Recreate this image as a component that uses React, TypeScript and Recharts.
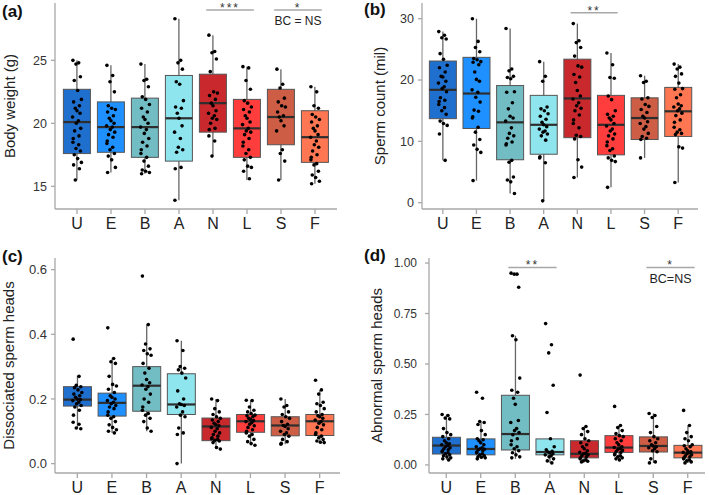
import { ComposedChart, Bar, Scatter, XAxis, YAxis, ReferenceLine } from "recharts";

const GROUPS = ["U", "E", "B", "A", "N", "L", "S", "F"];
const COLORS = ["#1f6fcf", "#1e90ff", "#72bcc4", "#8fe5ee", "#c9282d", "#ff3d3d", "#cd5d45", "#ff7752"];

// box stats per group: [lower whisker, q1, median, q3, upper whisker]
const weightBox = [
  [15.5, 17.6, 20.1, 22.7, 25.0],
  [16.1, 17.7, 19.7, 21.7, 24.6],
  [16.0, 17.3, 19.7, 22.0, 24.7],
  [13.9, 17.0, 20.4, 23.8, 28.3],
  [17.4, 19.3, 21.6, 23.9, 27.0],
  [15.5, 17.3, 19.6, 21.9, 24.5],
  [15.5, 18.3, 20.5, 22.7, 24.3],
  [15.2, 16.9, 18.9, 21.0, 22.9],
];
const weightPts = [
  [25.0, 24.8, 24.7, 23.7, 23.4, 22.6, 21.9, 21.7, 21.4, 21.2, 21.0, 20.8, 20.5, 20.2, 20.0, 19.6, 19.4, 19.0, 18.8, 18.5, 18.3, 18.0, 17.8, 17.5, 17.2, 16.9, 16.7, 16.4, 15.5],
  [24.6, 23.8, 23.3, 22.5, 21.4, 21.2, 21.1, 20.9, 20.6, 20.4, 20.2, 20.0, 19.8, 19.7, 19.5, 19.3, 19.1, 18.9, 18.6, 18.4, 18.1, 17.9, 17.6, 17.4, 17.1, 16.5, 16.1],
  [24.7, 23.5, 23.4, 22.9, 22.1, 21.9, 21.5, 21.2, 20.9, 20.5, 20.3, 20.0, 19.7, 19.5, 19.2, 18.8, 18.5, 18.2, 17.9, 17.6, 17.3, 17.0, 16.6, 16.3, 16.2, 16.1, 16.0],
  [28.3, 25.0, 24.8, 24.3, 23.3, 23.1, 21.8, 21.3, 21.2, 20.8, 20.4, 19.8, 19.3, 18.8, 18.1, 17.9, 17.7, 16.5, 16.4, 13.9],
  [27.0, 25.7, 25.6, 25.1, 24.1, 22.5, 22.4, 22.2, 21.9, 21.6, 21.4, 21.0, 20.8, 20.6, 20.4, 20.3, 20.0, 19.6, 19.5, 19.0, 18.6, 17.4],
  [24.5, 24.4, 23.4, 22.7, 21.8, 21.6, 21.3, 21.1, 20.9, 20.6, 20.4, 20.1, 19.9, 19.6, 19.4, 19.3, 19.1, 18.8, 18.5, 18.2, 17.9, 17.6, 17.3, 17.1, 16.6, 16.5, 16.2, 15.6],
  [24.3, 23.1, 22.8, 22.0, 21.7, 21.4, 21.3, 20.9, 20.6, 20.5, 20.2, 19.8, 19.4, 17.9, 17.6, 17.0, 15.5],
  [22.9, 22.5, 21.4, 21.2, 20.7, 20.5, 20.3, 20.1, 19.8, 19.6, 19.4, 19.1, 18.9, 18.6, 18.3, 18.1, 17.8, 17.5, 17.3, 17.1, 16.8, 16.7, 16.2, 15.9, 15.7, 15.4, 15.2],
];

const countBox = [
  [6.9, 13.7, 18.4, 23.1, 27.9],
  [3.6, 12.1, 17.8, 23.7, 30.0],
  [1.5, 7.0, 13.1, 19.1, 28.4],
  [0.3, 7.9, 12.7, 17.5, 23.0],
  [4.1, 10.6, 17.0, 23.4, 29.2],
  [2.5, 7.8, 12.7, 17.5, 24.4],
  [7.3, 10.3, 13.8, 17.1, 20.7],
  [3.3, 10.8, 14.9, 18.8, 22.6],
];
const countPts = [
  [27.9, 27.3, 26.9, 26.7, 24.3, 23.4, 22.4, 22.0, 21.3, 20.6, 20.5, 19.8, 19.5, 18.9, 18.6, 18.1, 17.1, 16.7, 16.5, 16.0, 15.5, 15.0, 14.4, 13.3, 12.9, 12.6, 11.2, 6.9],
  [30.0, 26.3, 25.3, 24.6, 23.5, 23.3, 23.0, 22.9, 22.5, 21.3, 20.1, 19.8, 18.4, 18.0, 17.2, 16.4, 15.1, 14.9, 14.0, 13.8, 12.3, 11.5, 10.3, 9.4, 8.7, 8.2, 3.6],
  [28.4, 21.8, 21.5, 20.6, 20.4, 20.2, 18.1, 18.0, 16.3, 15.3, 14.1, 13.8, 13.3, 12.2, 11.3, 10.9, 10.5, 9.9, 9.6, 9.4, 6.9, 6.6, 4.2, 3.7, 3.4, 1.5],
  [23.0, 20.6, 19.8, 15.6, 15.3, 15.0, 14.5, 14.1, 13.6, 13.1, 12.7, 12.4, 12.0, 11.7, 11.5, 11.2, 10.9, 10.2, 7.5, 7.3, 6.5, 0.3],
  [29.2, 26.4, 26.1, 25.3, 23.9, 22.3, 22.1, 20.9, 20.5, 19.6, 18.3, 17.4, 16.9, 16.3, 15.8, 15.4, 15.0, 14.3, 13.5, 12.9, 12.2, 11.0, 10.8, 10.4, 7.0, 5.8, 4.1],
  [24.4, 22.5, 20.4, 20.3, 17.4, 16.8, 15.0, 14.4, 14.1, 13.8, 13.5, 12.9, 12.5, 12.0, 11.7, 11.2, 10.9, 10.4, 9.9, 9.3, 8.8, 8.5, 7.6, 7.3, 6.9, 6.7, 2.5],
  [20.7, 19.8, 19.6, 17.1, 16.9, 16.0, 15.7, 15.2, 14.7, 14.1, 13.8, 13.2, 12.9, 12.4, 12.0, 11.3, 10.8, 10.5, 10.3, 7.3],
  [22.6, 22.1, 21.8, 21.0, 20.6, 19.5, 18.6, 18.5, 17.6, 17.1, 16.1, 15.8, 15.6, 15.3, 15.0, 14.6, 14.2, 13.5, 13.1, 12.3, 11.9, 11.5, 11.3, 11.1, 9.1, 8.9, 3.3],
];

const dissBox = [
  [0.108, 0.178, 0.198, 0.238, 0.272],
  [0.095, 0.147, 0.188, 0.218, 0.325],
  [0.1, 0.162, 0.241, 0.3, 0.43],
  [0.0, 0.152, 0.183, 0.278, 0.38],
  [0.045, 0.071, 0.115, 0.141, 0.2],
  [0.057, 0.097, 0.131, 0.152, 0.196],
  [0.06, 0.086, 0.118, 0.145, 0.2],
  [0.065, 0.087, 0.131, 0.152, 0.228],
];
const dissPts = [
  [0.385, 0.27, 0.242, 0.238, 0.235, 0.228, 0.22, 0.215, 0.21, 0.205, 0.2, 0.198, 0.195, 0.19, 0.185, 0.18, 0.175, 0.165, 0.15, 0.128, 0.122, 0.11, 0.108],
  [0.42, 0.325, 0.315, 0.31, 0.27, 0.245, 0.24, 0.23, 0.22, 0.21, 0.205, 0.2, 0.195, 0.19, 0.185, 0.18, 0.175, 0.17, 0.16, 0.15, 0.145, 0.14, 0.13, 0.12, 0.112, 0.105, 0.1, 0.095],
  [0.58, 0.43, 0.37, 0.355, 0.35, 0.34, 0.335, 0.31, 0.295, 0.28, 0.26, 0.25, 0.243, 0.238, 0.23, 0.215, 0.2, 0.19, 0.175, 0.165, 0.155, 0.15, 0.14, 0.13, 0.11, 0.1],
  [0.38, 0.35, 0.3, 0.295, 0.29, 0.28, 0.265, 0.225, 0.2, 0.185, 0.183, 0.18, 0.175, 0.16, 0.15, 0.145, 0.11, 0.095, 0.09, 0.0],
  [0.2, 0.195, 0.17, 0.16, 0.152, 0.145, 0.14, 0.135, 0.13, 0.125, 0.12, 0.117, 0.112, 0.108, 0.1, 0.095, 0.09, 0.085, 0.08, 0.077, 0.075, 0.072, 0.07, 0.065, 0.05, 0.045],
  [0.196, 0.195, 0.175, 0.165, 0.16, 0.155, 0.15, 0.148, 0.145, 0.14, 0.137, 0.133, 0.13, 0.127, 0.122, 0.117, 0.112, 0.105, 0.1, 0.095, 0.09, 0.085, 0.075, 0.068, 0.062, 0.057],
  [0.2, 0.18, 0.175, 0.16, 0.152, 0.145, 0.14, 0.13, 0.122, 0.118, 0.115, 0.108, 0.1, 0.095, 0.09, 0.085, 0.075, 0.068, 0.063, 0.06],
  [0.258, 0.228, 0.215, 0.19, 0.185, 0.18, 0.17, 0.16, 0.152, 0.148, 0.145, 0.14, 0.135, 0.13, 0.125, 0.12, 0.112, 0.105, 0.095, 0.09, 0.085, 0.08, 0.075, 0.07, 0.066, 0.065],
];

const abnBox = [
  [0.025, 0.054, 0.096, 0.137, 0.25],
  [0.03, 0.05, 0.079, 0.129, 0.215],
  [0.03, 0.074, 0.153, 0.345, 0.64],
  [0.01, 0.05, 0.064, 0.129, 0.13],
  [0.015, 0.035, 0.055, 0.12, 0.19],
  [0.025, 0.062, 0.086, 0.145, 0.195],
  [0.01, 0.064, 0.094, 0.139, 0.255],
  [0.01, 0.035, 0.061, 0.097, 0.195],
];
const abnPts = [
  [0.25, 0.245, 0.232, 0.228, 0.18, 0.16, 0.15, 0.14, 0.13, 0.12, 0.11, 0.105, 0.1, 0.096, 0.09, 0.085, 0.08, 0.075, 0.07, 0.065, 0.06, 0.055, 0.05, 0.045, 0.04, 0.035, 0.03, 0.025],
  [0.36, 0.33, 0.215, 0.21, 0.2, 0.17, 0.15, 0.13, 0.125, 0.12, 0.11, 0.1, 0.09, 0.085, 0.08, 0.078, 0.075, 0.07, 0.065, 0.06, 0.055, 0.05, 0.045, 0.04, 0.038, 0.035, 0.03],
  [0.95, 0.945, 0.945, 0.88, 0.64, 0.62, 0.43, 0.37, 0.36, 0.33, 0.3, 0.22, 0.21, 0.18, 0.17, 0.16, 0.15, 0.13, 0.12, 0.1, 0.09, 0.08, 0.07, 0.06, 0.05, 0.04, 0.035],
  [0.7, 0.595, 0.555, 0.395, 0.26, 0.13, 0.09, 0.075, 0.068, 0.064, 0.06, 0.055, 0.05, 0.045, 0.04, 0.03, 0.02, 0.01],
  [0.445, 0.19, 0.18, 0.165, 0.15, 0.13, 0.12, 0.11, 0.1, 0.09, 0.08, 0.07, 0.062, 0.058, 0.055, 0.05, 0.045, 0.04, 0.035, 0.03, 0.025, 0.02, 0.018, 0.015],
  [0.29, 0.195, 0.185, 0.17, 0.155, 0.145, 0.14, 0.13, 0.12, 0.11, 0.1, 0.09, 0.086, 0.082, 0.078, 0.072, 0.068, 0.062, 0.055, 0.05, 0.045, 0.04, 0.035, 0.03, 0.025],
  [0.255, 0.245, 0.235, 0.19, 0.16, 0.14, 0.13, 0.12, 0.11, 0.1, 0.094, 0.09, 0.085, 0.08, 0.07, 0.065, 0.03, 0.015, 0.01],
  [0.27, 0.195, 0.16, 0.14, 0.13, 0.12, 0.1, 0.095, 0.09, 0.08, 0.07, 0.065, 0.062, 0.06, 0.055, 0.05, 0.045, 0.04, 0.035, 0.03, 0.025, 0.02, 0.015, 0.01],
];

// fixed horizontal jitter pattern (fraction of a category)
const JIT = [-0.12, 0.05, -0.03, 0.1, -0.08, 0.02, 0.13, -0.1, 0.07, -0.05, 0.0, 0.09, -0.13, 0.04, -0.02, 0.11, -0.07, 0.06, -0.11];

const FONT = "Liberation Sans, Arial, sans-serif";

const BoxShape = (props: any) => {
  const { x, y, width, height, payload } = props;
  const top = Math.min(y, y + height);
  const h = Math.abs(height);
  const span = payload.hi - payload.lo || 1;
  const py = (v: number) => top + (h * (payload.hi - v)) / span;
  const cx = x + width / 2;
  return (
    <g>
      <line x1={cx} x2={cx} y1={py(payload.hi)} y2={py(payload.lo)} stroke="#666" strokeWidth={1.3} />
      <rect
        x={x}
        y={py(payload.q3)}
        width={width}
        height={py(payload.q1) - py(payload.q3)}
        fill={payload.color}
        stroke="#555"
        strokeWidth={1}
      />
      <line x1={x} x2={x + width} y1={py(payload.med)} y2={py(payload.med)} stroke="#2e2e2e" strokeWidth={2.2} />
    </g>
  );
};

const Dot = (props: any) => <circle cx={props.cx} cy={props.cy} r={1.8} fill="#000" />;

// significance bar: grey line, stars above, optional note below
const noteShape = (n: any) => (props: any) => {
  const { x1, y1, x2, y2 } = props;
  const cx = (x1 + x2) / 2;
  const ly = (y1 + y2) / 2;
  return (
    <g>
      <line x1={x1} y1={ly} x2={x2} y2={ly} stroke="#a8a8a8" strokeWidth={1.5} />
      <text x={cx} y={ly + 2} textAnchor="middle" fontSize={12} letterSpacing={2} fontFamily={FONT} fill="#333">
        {n.stars}
      </text>
      {n.sub && (
        <text x={cx} y={ly + n.bdy} textAnchor="middle" fontSize={n.bf} fontFamily={FONT} fill="#222">
          {n.sub}
        </text>
      )}
    </g>
  );
};

function Panel(p: any) {
  const boxData = GROUPS.map((g, i) => ({
    g,
    lo: p.box[i][0],
    q1: p.box[i][1],
    med: p.box[i][2],
    q3: p.box[i][3],
    hi: p.box[i][4],
    color: COLORS[i],
  }));
  const dots = p.pts.flatMap((vals: number[], i: number) =>
    vals.map((v, k) => ({ x: i + 1 + JIT[k % JIT.length], y: v }))
  );
  const lineStyle = { stroke: "#a8a8a8", strokeWidth: 1.3 };
  return (
    <div style={{ position: "absolute", left: p.left, top: p.top }}>
      <ComposedChart width={p.w} height={p.h} data={boxData} margin={p.margin} barCategoryGap="10%">
        <XAxis
          xAxisId="cat"
          dataKey="g"
          height={p.xh}
          padding={p.pad}
          axisLine={lineStyle}
          tickLine={lineStyle}
          tickSize={5}
          tickMargin={4}
          tick={{ fill: "#222", fontSize: 16, fontFamily: FONT }}
        />
        <XAxis xAxisId="num" type="number" dataKey="x" domain={[0.5, 8.5]} padding={p.pad} hide allowDataOverflow />
        <YAxis
          type="number"
          width={p.yw}
          domain={p.domain}
          ticks={p.ticks}
          allowDataOverflow
          interval={0}
          tickFormatter={p.fmt}
          axisLine={lineStyle}
          tickLine={lineStyle}
          tickSize={4}
          tickMargin={p.tm}
          tick={{ fill: "#333", fontSize: p.tf, fontFamily: FONT }}
          label={{
            value: p.title,
            angle: -90,
            position: "insideLeft",
            offset: p.to,
            style: { textAnchor: "middle", fill: "#222", fontSize: 15, fontFamily: FONT },
          }}
        />
        <Bar xAxisId="cat" dataKey={(d: any) => [d.lo, d.hi]} shape={BoxShape} isAnimationActive={false} />
        <Scatter xAxisId="num" data={dots} dataKey="y" shape={Dot} isAnimationActive={false} />
        {p.notes.map((n: any, i: number) => (
          <ReferenceLine
            key={i}
            xAxisId="num"
            segment={[
              { x: n.x0, y: n.y },
              { x: n.x1, y: n.y },
            ]}
            ifOverflow="visible"
            shape={noteShape(n)}
          />
        ))}
      </ComposedChart>
    </div>
  );
}

const tag = (t: string, left: number, top: number) => (
  <div
    style={{
      position: "absolute",
      left,
      top,
      fontFamily: FONT,
      fontWeight: "bold",
      fontSize: 17,
      lineHeight: "17px",
      color: "#111",
    }}
  >
    {t}
  </div>
);

export default function App() {
  return (
    <div style={{ position: "absolute", left: 0, top: 0, width: 709, height: 495, background: "#fff", overflow: "hidden" }}>
      <Panel
        left={0}
        top={0}
        w={354}
        h={247}
        margin={{ top: 3, right: 17, left: 0, bottom: 0 }}
        yw={55}
        xh={38}
        pad={{ left: 5, right: 5 }}
        domain={[13.2, 29.55]}
        ticks={[15, 20, 25]}
        tf={12.5}
        tm={4}
        title="Body weight (g)"
        to={10}
        box={weightBox}
        pts={weightPts}
        notes={[
          { x0: 4.8, x1: 6.2, y: 29.0, stars: "***" },
          { x0: 6.8, x1: 8.2, y: 29.0, stars: "*", sub: "BC = NS", bdy: 15.5, bf: 12 },
        ]}
      />
      <Panel
        left={354}
        top={0}
        w={355}
        h={247}
        margin={{ top: 3, right: 11, left: 0, bottom: 0 }}
        yw={68}
        xh={38}
        pad={{ left: 4, right: 3 }}
        domain={[-1.03, 32.56]}
        ticks={[0, 10, 20, 30]}
        tf={12.5}
        tm={4}
        title="Sperm count (mil)"
        to={26}
        box={countBox}
        pts={countPts}
        notes={[{ x0: 4.8, x1: 6.2, y: 30.98, stars: "**" }]}
      />
      <Panel
        left={0}
        top={247}
        w={354}
        h={248}
        margin={{ top: 11, right: 14, left: 0, bottom: 0 }}
        yw={55}
        xh={22}
        pad={{ left: 5, right: 3 }}
        domain={[-0.029, 0.636]}
        ticks={[0, 0.2, 0.4, 0.6]}
        fmt={(v: number) => v.toFixed(1)}
        tf={13}
        tm={4}
        title="Dissociated sperm heads"
        to={9}
        box={dissBox}
        pts={dissPts}
        notes={[]}
      />
      <Panel
        left={354}
        top={247}
        w={355}
        h={248}
        margin={{ top: 11, right: 4, left: 0, bottom: 0 }}
        yw={75}
        xh={22}
        pad={{ left: 0, right: 0 }}
        domain={[-0.04, 1.025]}
        ticks={[0, 0.25, 0.5, 0.75, 1]}
        fmt={(v: number) => v.toFixed(2)}
        tf={12}
        tm={8}
        title="Abnormal sperm heads"
        to={23}
        box={abnBox}
        pts={abnPts}
        notes={[
          { x0: 2.8, x1: 4.2, y: 0.978, stars: "**" },
          { x0: 6.8, x1: 8.2, y: 0.978, stars: "*", sub: "BC=NS", bdy: 16, bf: 12.5 },
        ]}
      />
      {tag("(a)", 2, 3)}
      {tag("(b)", 364, 1)}
      {tag("(c)", 2, 248)}
      {tag("(d)", 364, 247)}
    </div>
  );
}
